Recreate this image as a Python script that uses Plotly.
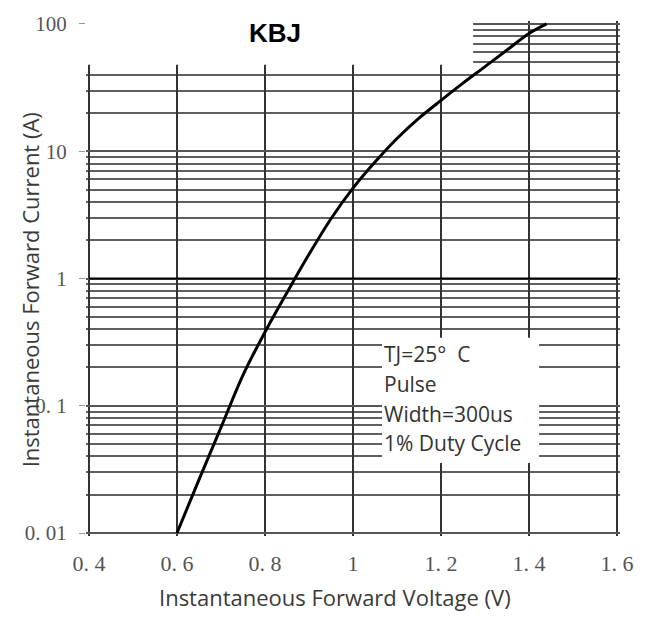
import plotly.graph_objects as go

# Data
voltage = [0.60, 0.65, 0.70, 0.75, 0.80, 0.85, 0.90, 0.95, 1.00, 1.05, 1.10, 1.15, 1.20, 1.25, 1.30, 1.35, 1.40, 1.44]
current = [0.0100, 0.0263, 0.0676, 0.174, 0.380, 0.776, 1.55, 2.95, 5.13, 8.22, 12.6, 18.2, 25.1, 34.3, 46.2, 62.4, 84.1, 100.0]

x_tickvals = [0.4, 0.6, 0.8, 1.0, 1.2, 1.4, 1.6]
x_ticktext = ["0. 4", "0. 6", "0. 8", "1", "1. 2", "1. 4", "1. 6"]
y_tickvals = [0.01, 0.1, 1, 10, 100]
y_ticktext = ["0. 01", "0. 1", "1", "10", "100"]

note_lines = ["TJ=25°  C", "Pulse", "Width=300us", "1% Duty Cycle"]

W, H = 654, 639
L, R, T, B = 86, 34, 14, 103
pw, ph = W - L - R, H - T - B

def px(xp):
    return (xp - L) / pw

def py(yp):
    return (H - B - yp) / ph

fig = go.Figure()
fig.add_trace(go.Scatter(
    x=voltage, y=current, mode="lines",
    line=dict(color="black", width=3, shape="spline", smoothing=1.0),
    showlegend=False, hoverinfo="skip",
))

fig.update_layout(
    width=W, height=H,
    margin=dict(l=L, r=R, t=T, b=B),
    paper_bgcolor="white", plot_bgcolor="white",
    showlegend=False,
    xaxis=dict(
        range=[0.3932, 1.6068], tickmode="array", tickvals=x_tickvals, ticktext=x_ticktext,
        showgrid=True, gridcolor="#333", gridwidth=2,
        showline=False, zeroline=False, ticks="",
        tickfont=dict(family="Liberation Serif", size=22, color="#555"),
        ticklabelstandoff=12,
    ),
    yaxis=dict(
        type="log", range=[-2.0233, 2.0233], tickmode="array", tickvals=y_tickvals, ticktext=y_ticktext,
        showgrid=True, gridcolor="#555", gridwidth=1.5,
        minor=dict(dtick="D1", showgrid=True, gridcolor="#5f5f5f", gridwidth=1.5, ticks=""),
        showline=False, zeroline=False, ticks="outside", ticklen=6, tickcolor="#999", tickwidth=1,
        tickfont=dict(family="Liberation Serif", size=21, color="#555"),
        ticklabelstandoff=8,
    ),
)

# white masks over the grid (between grid and curve)
fig.add_shape(type="rect", xref="x", yref="y", x0=0.3, x1=1.273, y0=47.9, y1=200,
              fillcolor="white", line=dict(width=0), layer="between")
fig.add_shape(type="rect", xref="x", yref="y", x0=1.066, x1=1.423, y0=0.0355, y1=0.343,
              fillcolor="white", line=dict(width=0), layer="between")
# heavy line at 1 A
fig.add_shape(type="line", xref="x", yref="y", x0=0.4, x1=1.6, y0=1, y1=1,
              line=dict(color="black", width=1.8), layer="between")

# note text
for i, t in enumerate(note_lines):
    fig.add_annotation(x=px(382), y=py(352 + 30 * i), xref="paper", yref="paper",
                       text=t, showarrow=False, xanchor="left", yanchor="middle",
                       font=dict(family="Open Sans", size=21, color="#333"))

# title
fig.add_annotation(x=px(275), y=py(26), xref="paper", yref="paper", text="<b>KBJ</b>",
                   showarrow=False, xanchor="center", yanchor="middle",
                   font=dict(family="Liberation Sans", size=26, color="black"))
# axis titles
fig.add_annotation(x=px(335), y=py(598), xref="paper", yref="paper",
                   text="Instantaneous Forward Voltage (V)", showarrow=False,
                   xanchor="center", yanchor="middle",
                   font=dict(family="Open Sans", size=22, color="#3a3a3a"))
fig.add_annotation(x=px(30), y=py(287), xref="paper", yref="paper",
                   text="Instantaneous Forward Current (A)", showarrow=False, textangle=-90,
                   xanchor="center", yanchor="middle",
                   font=dict(family="Open Sans", size=22, color="#3a3a3a"))

fig.write_html("out.html")
